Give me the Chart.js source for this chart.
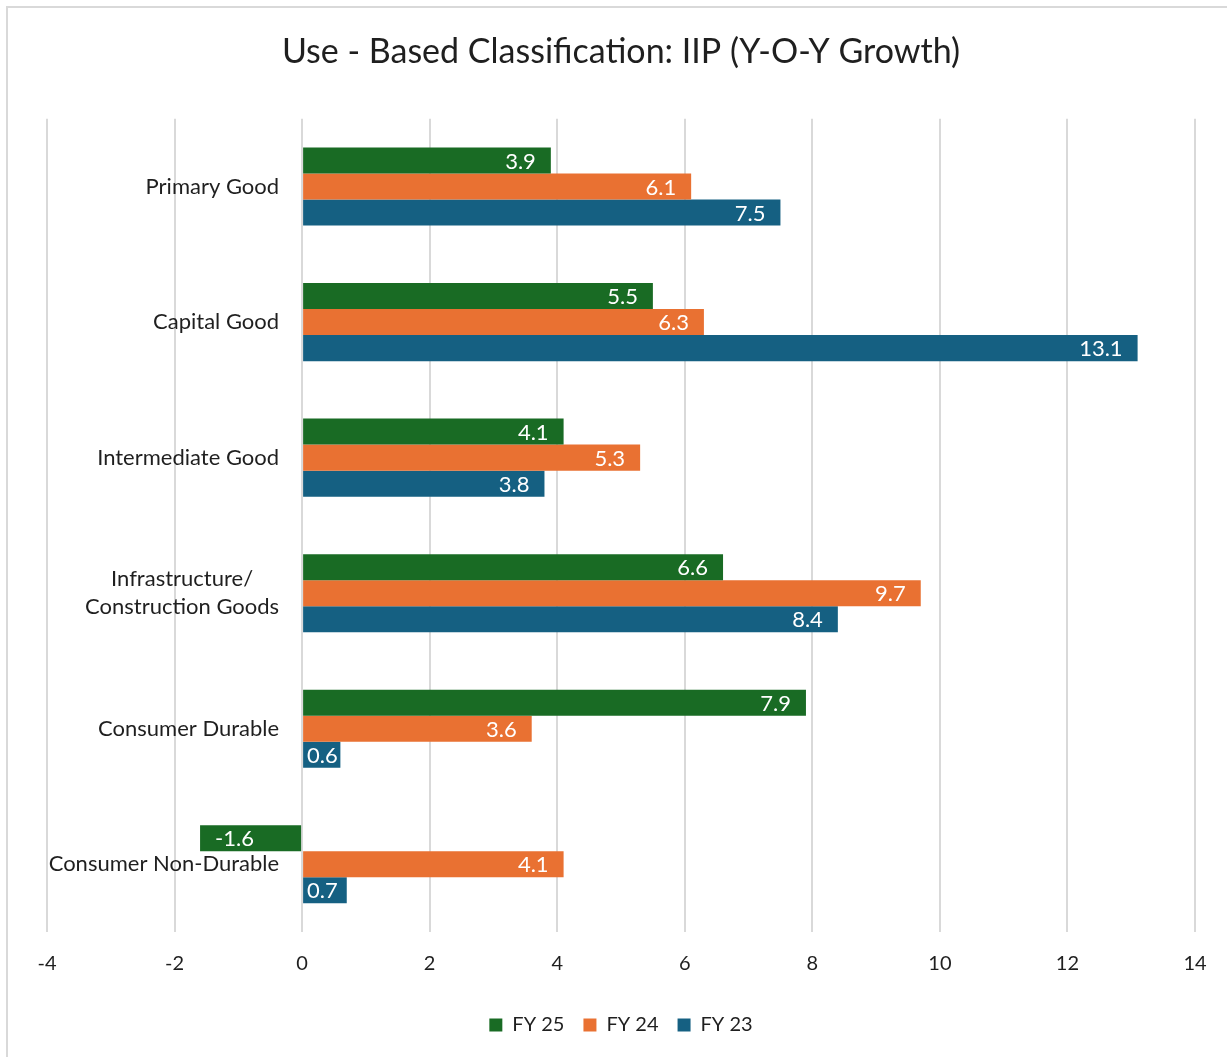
<!DOCTYPE html>
<html>
<head>
<meta charset="utf-8">
<title>Use - Based Classification: IIP (Y-O-Y Growth)</title>
<script src="https://cdn.jsdelivr.net/npm/chart.js@4/dist/chart.umd.min.js"></script>
<style>
  html, body { margin: 0; padding: 0; background: #ffffff; overflow: hidden; }
  #frame {
    position: absolute; left: 6px; top: 6px; width: 1260px; height: 1100px;
    border-top: 2px solid #d9d9d9; border-left: 2px solid #d9d9d9;
  }
  #wrap { position: absolute; left: 0; top: 0; width: 1227px; height: 1057px; }
</style>
</head>
<body>
<div id="frame"></div>
<div id="wrap"><canvas id="chart" width="1227" height="1057"></canvas></div>
<script>
// Use-based classification of the Index of Industrial Production, year-on-year growth (%)
const categories = [
  ['Primary Good'],
  ['Capital Good'],
  ['Intermediate Good'],
  ['Infrastructure/', 'Construction Goods'],
  ['Consumer Durable'],
  ['Consumer Non-Durable']
];
const seriesNames = ['FY 25', 'FY 24', 'FY 23'];
const fy25 = [3.9, 5.5, 4.1, 6.6, 7.9, -1.6];
const fy24 = [6.1, 6.3, 5.3, 9.7, 3.6, 4.1];
const fy23 = [7.5, 13.1, 3.8, 8.4, 0.6, 0.7];
const xTicks = [-4, -2, 0, 2, 4, 6, 8, 10, 12, 14];
const seriesColors = ['#196b24', '#e97132', '#156082'];

const FONT = 'Lato, "Open Sans", sans-serif';
const TEXT = '#1f1f1f';

// Category names drawn right-aligned just left of the zero line
const categoryLabels = {
  id: 'categoryLabels',
  afterDatasetsDraw(chart) {
    const { ctx, scales: { x, y } } = chart;
    const right = x.getPixelForValue(0) - 23;
    ctx.save();
    ctx.font = '22px ' + FONT;
    ctx.fillStyle = TEXT;
    ctx.textBaseline = 'middle';
    const lh = 28;
    categories.forEach((lines, i) => {
      const cy = y.getPixelForValue(i);
      const widths = lines.map(l => ctx.measureText(l).width);
      const maxW = Math.max(...widths);
      const cx = right - maxW / 2;
      ctx.textAlign = 'center';
      lines.forEach((l, k) => {
        const ly = cy + (k - (lines.length - 1) / 2) * lh;
        ctx.fillText(l, cx, ly);
      });
    });
    ctx.restore();
  }
};

// Value labels placed inside the end of each bar
const barValues = {
  id: 'barValues',
  afterDatasetsDraw(chart) {
    const { ctx } = chart;
    ctx.save();
    ctx.font = '22px ' + FONT;
    ctx.fillStyle = '#ffffff';
    ctx.textBaseline = 'middle';
    chart.data.datasets.forEach((ds, di) => {
      const meta = chart.getDatasetMeta(di);
      meta.data.forEach((bar, i) => {
        const v = ds.data[i];
        const txt = v.toFixed(1);
        const w = ctx.measureText(txt).width;
        const pad = 15;
        let left;
        if (v >= 0) {
          left = bar.x - pad - w;
          if (left < bar.base + 4) left = bar.base + 4;
        } else {
          left = bar.x + pad;
          if (left + w > bar.base - 4) left = bar.base - 4 - w;
        }
        ctx.textAlign = 'left';
        ctx.fillText(txt, left, bar.y + 1);
      });
    });
    ctx.restore();
  }
};

new Chart(document.getElementById('chart'), {
  type: 'bar',
  data: {
    labels: categories.map(c => c.join(' ')),
    datasets: [
      { label: seriesNames[0], data: fy25, backgroundColor: seriesColors[0] },
      { label: seriesNames[1], data: fy24, backgroundColor: seriesColors[1] },
      { label: seriesNames[2], data: fy23, backgroundColor: seriesColors[2] }
    ]
  },
  options: {
    indexAxis: 'y',
    responsive: false,
    animation: false,
    devicePixelRatio: 1,
    datasets: { bar: { categoryPercentage: 0.576, barPercentage: 1.0, borderWidth: 0 } },
    layout: { padding: { left: 47, right: 32, top: 0, bottom: 12 } },
    scales: {
      x: {
        min: -4, max: 14,
        afterBuildTicks(scale) { scale.ticks = xTicks.map(v => ({ value: v })); },
        grid: { color: '#d9d9d9', lineWidth: 2, drawTicks: false },
        border: { display: false },
        ticks: { color: TEXT, font: { family: FONT, size: 20 }, padding: 20 },
        afterFit(scale) { scale.height = 64; }
      },
      y: {
        display: false
      }
    },
    plugins: {
      title: {
        display: true,
        text: 'Use - Based Classification: IIP (Y-O-Y Growth)',
        color: TEXT,
        font: { family: FONT, size: 34, weight: 'normal' },
        padding: { top: 32, bottom: 46 }
      },
      legend: {
        position: 'bottom',
        labels: {
          color: TEXT,
          font: { family: FONT, size: 20 },
          boxWidth: 13, boxHeight: 13,
          padding: 19
        }
      },
      tooltip: { enabled: false }
    }
  },
  plugins: [categoryLabels, barValues]
});
</script>
</body>
</html>
